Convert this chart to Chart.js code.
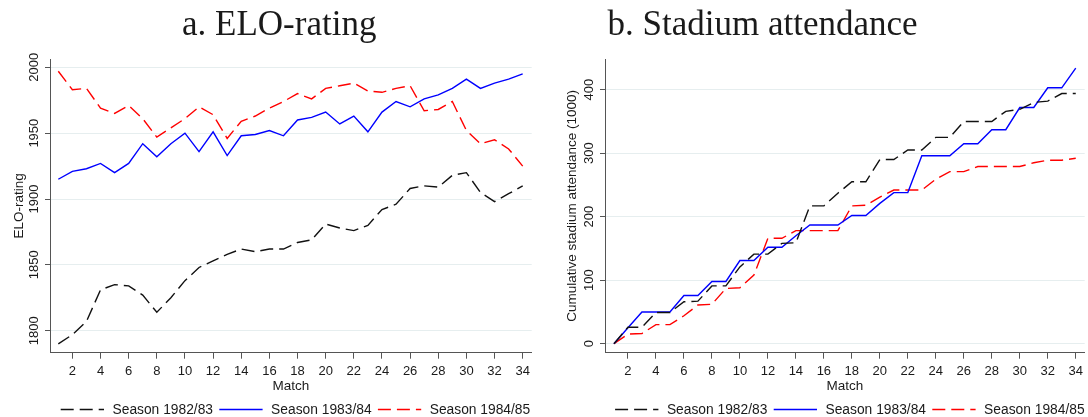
<!DOCTYPE html>
<html>
<head>
<meta charset="utf-8">
<title>ELO-rating and stadium attendance</title>
<script src="https://cdn.jsdelivr.net/npm/chart.js@4/dist/chart.umd.min.js"></script>
<style>
  html, body { margin: 0; padding: 0; background: #ffffff; }
  #wrap { position: relative; width: 1088px; height: 417px; overflow: hidden; }
  .panel { position: absolute; top: 0; width: 544px; height: 417px; }
  canvas { display: block; }
</style>
</head>
<body>
<div id="wrap">
  <div class="panel" style="left:0"><canvas id="elo" width="544" height="417"></canvas></div>
  <div class="panel" style="left:544px"><canvas id="att" width="544" height="417"></canvas></div>
</div>
<script>
// ---- data ----------------------------------------------------------------
const matches = [1, 2, 3, 4, 5, 6, 7, 8, 9, 10, 11, 12, 13, 14, 15, 16, 17,
                 18, 19, 20, 21, 22, 23, 24, 25, 26, 27, 28, 29, 30, 31, 32, 33, 34];
const matchTicks = [2, 4, 6, 8, 10, 12, 14, 16, 18, 20, 22, 24, 26, 28, 30, 32, 34];
const seasons = ['Season 1982/83', 'Season 1983/84', 'Season 1984/85'];

// ELO-rating after each match
const elo1982 = [1790, 1797, 1807, 1831, 1835, 1834, 1827, 1814, 1825, 1838, 1848, 1853,
                 1858, 1862, 1860, 1862, 1862, 1867, 1869, 1881, 1878, 1876, 1880, 1892,
                 1896, 1908, 1910, 1909, 1918, 1920, 1905, 1898, 1904, 1910];
const elo1983 = [1915, 1921, 1923, 1927, 1920, 1927, 1942, 1932, 1942, 1950, 1936, 1951,
                 1933, 1948, 1949, 1952, 1948, 1960, 1962, 1966, 1957, 1963, 1951, 1966,
                 1974, 1970, 1976, 1979, 1984, 1991, 1984, 1988, 1991, 1995];
const elo1984 = [1997, 1983, 1984, 1969, 1965, 1971, 1961, 1947, 1954, 1961, 1970, 1964,
                 1946, 1959, 1963, 1969, 1974, 1980, 1976, 1984, 1986, 1988, 1982, 1981,
                 1984, 1986, 1967, 1968, 1974, 1952, 1942, 1945, 1938, 1925];
const eloTicks = [1800, 1850, 1900, 1950, 2000];

// cumulative stadium attendance (1000)
const att1982 = [0, 26, 26, 49, 49, 66, 67, 91, 91, 121, 141, 141, 158, 159, 217, 217, 237,
                 255, 255, 290, 290, 305, 305, 325, 325, 350, 350, 350, 366, 369, 380, 382, 394, 394];
const att1983 = [0, 25, 50, 50, 50, 76, 76, 98, 98, 131, 131, 152, 152, 170, 187, 187, 187,
                 202, 202, 221, 238, 238, 296, 296, 296, 315, 315, 337, 337, 372, 372, 403, 403, 434];
const att1984 = [0, 15, 16, 30, 30, 44, 61, 62, 87, 88, 108, 166, 166, 178, 178, 178, 178,
                 217, 218, 231, 242, 242, 242, 259, 271, 271, 279, 279, 279, 279, 285, 289, 289, 292];
const attTicks = [0, 100, 200, 300, 400];

// ---- styling ---------------------------------------------------------------
const lineStyles = [
  { color: '#111111', dash: [13, 6] },
  { color: '#0000ff', dash: [] },
  { color: '#ff0000', dash: [13, 6] }
];
const axisColor = '#555555';
const gridColor = '#e6eeef';
const textColor = '#1a1a1a';
const sansFont = 'Liberation Sans';

// Panel heading and legend row, drawn on top of each chart
const panelDecor = {
  id: 'panelDecor',
  afterDraw(chart, args, opts) {
    const ctx = chart.ctx;
    ctx.save();
    ctx.fillStyle = textColor;
    ctx.font = '35px "Liberation Serif"';
    ctx.textAlign = 'center';
    ctx.textBaseline = 'middle';
    ctx.fillText(opts.title, opts.titleX, 26.2);

    ctx.font = '13.8px "' + sansFont + '"';
    ctx.textAlign = 'left';
    const y = 409.5;
    let x = opts.legendX;
    chart.data.datasets.forEach(ds => {
      ctx.beginPath();
      ctx.setLineDash(ds.borderDash || []);
      ctx.strokeStyle = ds.borderColor;
      ctx.lineWidth = ds.borderWidth;
      ctx.moveTo(x, y);
      ctx.lineTo(x + 43.3, y);
      ctx.stroke();
      ctx.setLineDash([]);
      x += 43.3 + 8.5;
      ctx.fillText(ds.label, x, y + 0.8);
      x += ctx.measureText(ds.label).width + 6.3;
    });
    ctx.restore();
  }
};

function buildDatasets(seriesList) {
  return seriesList.map((values, i) => ({
    label: seasons[i],
    data: matches.map((m, j) => ({ x: m, y: values[j] })),
    borderColor: lineStyles[i].color,
    borderDash: lineStyles[i].dash,
    borderWidth: 1.4,
    pointRadius: 0,
    tension: 0,
    fill: false
  }));
}

function makePanel(canvasId, cfg) {
  return new Chart(document.getElementById(canvasId), {
    type: 'line',
    data: { datasets: buildDatasets(cfg.series) },
    options: {
      responsive: false,
      animation: false,
      devicePixelRatio: 1,
      layout: { padding: { top: 59, left: 0, right: cfg.padRight, bottom: 22.2 } },
      plugins: {
        legend: { display: false },
        tooltip: { enabled: false },
        title: { display: false },
        panelDecor: { title: cfg.title, titleX: cfg.titleX, legendX: cfg.legendX }
      },
      scales: {
        x: {
          type: 'linear',
          bounds: 'data',
          min: cfg.xMin,
          max: 34.64,
          afterBuildTicks: s => { s.ticks = matchTicks.map(v => ({ value: v })); },
          afterFit: s => { s.height = 42.1; },
          grid: { drawOnChartArea: false, drawTicks: true, tickLength: 6, tickColor: axisColor, tickWidth: 1 },
          border: { display: true, color: axisColor, width: 1 },
          ticks: {
            autoSkip: false, maxRotation: 0, minRotation: 0, padding: 5,
            color: textColor, font: { family: sansFont, size: 13 },
            callback: v => String(v)
          },
          title: {
            display: true, text: 'Match', color: textColor, padding: 0,
            font: { family: sansFont, size: 13.5 }
          }
        },
        y: {
          type: 'linear',
          bounds: 'data',
          min: cfg.yMin,
          max: cfg.yMax,
          afterBuildTicks: s => { s.ticks = cfg.yTicks.map(v => ({ value: v })); },
          afterFit: s => { s.width = cfg.yWidth; },
          grid: { color: gridColor, lineWidth: 1, drawTicks: true, tickLength: 5, tickColor: axisColor },
          border: { display: true, color: axisColor, width: 1 },
          ticks: {
            minRotation: 90, maxRotation: 90, crossAlign: 'center', padding: cfg.yTickPad,
            color: textColor, font: { family: sansFont, size: 13 },
            callback: v => String(v)
          },
          title: {
            display: true, text: cfg.yTitle, color: textColor, padding: cfg.yTitlePad,
            font: { family: sansFont, size: 13.5 }
          }
        }
      }
    },
    plugins: [panelDecor]
  });
}

makePanel('elo', {
  series: [elo1982, elo1983, elo1984],
  title: 'a. ELO-rating', titleX: 279.2, legendX: 60.7,
  xMin: 0.41, yMin: 1783.3, yMax: 2006.3, yTicks: eloTicks,
  yWidth: 50, padRight: 12.3, yTickPad: -3.5, yTitlePad: 11.4,
  yTitle: 'ELO-rating'
});

makePanel('att', {
  series: [att1982, att1983, att1984],
  title: 'b. Stadium attendance', titleX: 218.5, legendX: 71.1,
  xMin: 0.36, yMin: -14.2, yMax: 448.4, yTicks: attTicks,
  yWidth: 61, padRight: 1.3, yTickPad: 0.2, yTitlePad: 19.9,
  yTitle: 'Cumulative stadium attendance (1000)'
});
</script>
</body>
</html>
